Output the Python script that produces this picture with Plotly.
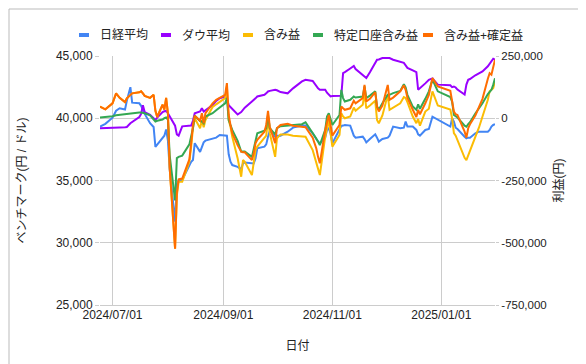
import plotly.graph_objects as go

dates = [
    "2024-06-24", "2024-06-27", "2024-07-01", "2024-07-03", "2024-07-05", "2024-07-08", "2024-07-09",
    "2024-07-11", "2024-07-12", "2024-07-16", "2024-07-17", "2024-07-18", "2024-07-19", "2024-07-22",
    "2024-07-24", "2024-07-25", "2024-07-26", "2024-07-29", "2024-07-30", "2024-07-31", "2024-08-01",
    "2024-08-02", "2024-08-05", "2024-08-06", "2024-08-07", "2024-08-09", "2024-08-13", "2024-08-14",
    "2024-08-15", "2024-08-16", "2024-08-19", "2024-08-20", "2024-08-21", "2024-08-22", "2024-08-26",
    "2024-08-28", "2024-08-30", "2024-09-02", "2024-09-03", "2024-09-04", "2024-09-05", "2024-09-06",
    "2024-09-09", "2024-09-11", "2024-09-12", "2024-09-13", "2024-09-17", "2024-09-18", "2024-09-19",
    "2024-09-20", "2024-09-24", "2024-09-25", "2024-09-26", "2024-09-27", "2024-09-30", "2024-10-01",
    "2024-10-03", "2024-10-07", "2024-10-10", "2024-10-15", "2024-10-17", "2024-10-21", "2024-10-23",
    "2024-10-24", "2024-10-25", "2024-10-28", "2024-10-29", "2024-10-30", "2024-10-31", "2024-11-01",
    "2024-11-05", "2024-11-06", "2024-11-07", "2024-11-08", "2024-11-11", "2024-11-13", "2024-11-14",
    "2024-11-18", "2024-11-19", "2024-11-20", "2024-11-22", "2024-11-25", "2024-11-26", "2024-11-27",
    "2024-11-29", "2024-12-02", "2024-12-03", "2024-12-05", "2024-12-09", "2024-12-11", "2024-12-12",
    "2024-12-13", "2024-12-16", "2024-12-18", "2024-12-19", "2024-12-20", "2024-12-23", "2024-12-25",
    "2024-12-27", "2024-12-30", "2025-01-06", "2025-01-07", "2025-01-08", "2025-01-09", "2025-01-10",
    "2025-01-14", "2025-01-15", "2025-01-16", "2025-01-17", "2025-01-20", "2025-01-22", "2025-01-24",
    "2025-01-27", "2025-01-28", "2025-01-29", "2025-01-30", "2025-01-31",
]

nikkei = [
    39330, 39550, 40050, 40600, 40800, 40700, 41400,
    42500, 41250, 41200, 41000, 40600, 40350, 39600,
    39300, 37700, 37900, 38400, 38600, 39100, 38200,
    35900, 31700, 34700, 35000, 35050, 36300, 36500,
    36650, 38000, 37300, 37720, 38060, 38200, 38330,
    38440, 38650, 38650, 38600, 37100, 36510, 36240,
    36100, 35910, 36370, 36450, 36370, 36370, 36770,
    37580, 37720, 37900, 38520, 39000, 38520, 38600,
    38600, 38920, 39250, 39410, 39410, 38790, 38330,
    38120, 37980, 38440, 39060, 39190, 38790, 37980,
    39190, 39380, 39410, 39460, 39410, 38600, 38440,
    38520, 38330, 38060, 38330, 38710, 38440, 38120,
    38330, 38440, 38600, 39330, 39190, 39240, 39730,
    39330, 39330, 39060, 38710, 38600, 39060, 39140,
    40130, 39870, 39330, 40000, 39730, 39240, 39140,
    38520, 38390, 38440, 38440, 38790, 38920, 38920,
    38920, 39060, 39330, 39460, 39520,
]

dow = [
    39190, 39190, 39220, 39240, 39250, 39270, 39300,
    39600, 39700, 40100, 40350, 41050, 40500, 40270,
    40000, 39870, 40050, 40500, 40560, 40590, 40400,
    40130, 39400, 38700, 38600, 39350, 39400, 39410,
    39800, 40400, 40540, 40800, 40540, 40650, 41050,
    41400, 41610, 41750, 41610, 41050, 40900, 40700,
    40300, 40500, 40670, 40850, 41350, 41450, 41600,
    41750, 41880, 42000, 42150, 42200, 42290, 42250,
    42100, 42000, 42400, 42960, 43090, 43000, 42560,
    42400, 42290, 42290, 42050, 41900, 41750, 41780,
    41750, 41800, 43630, 43700, 44000, 44200, 43950,
    43500, 43350, 43230, 43700, 44500, 44700, 44720,
    44840, 44840, 44840, 44700, 44550, 44450, 44250,
    44050, 43850, 43700, 42290, 42400, 42800, 43090,
    43200, 42700, 42650, 42500, 42550, 42470, 42300,
    41900, 42700, 43090, 43150, 43450, 43600, 43760,
    44170, 44400, 44600, 44780, 44700,
]

# 含み益 (yen)
unrealized = [
    47000, 36000, 60000, 100000, 82000, 65000, 80000,
    92000, 100000, 104000, 108000, 100000, 90000, 82000,
    94000, 30000, 5000, 55000, 35000, 82000, 20000,
    -200000, -524000, -310000, -255000, -255000, -175000, -115000,
    -40000, 0, -40000, -7000, -36000, -7000, 45000,
    56000, 67000, 81000, 128000, -7000, -34000, -74000,
    -161000, -235000, -168000, -175000, -228000, -175000, -128000,
    -114000, -81000, -70000, -7000, -60000, -155000, -81000,
    -65000, -65000, -70000, -74000, -74000, -128000, -175000,
    -202000, -228000, -74000, -40000, -7000, -60000, -114000,
    -67000, 20000, 7000, 0, 7000, 43000, 30000,
    54000, 101000, 40000, 51000, 70000, -7000, -20000,
    11000, 94000, 34000, 43000, 60000, 85000, 81000,
    65000, 7000, -20000, -3000, -30000, 27000, 38000,
    108000, 51000, 35000, 0, -60000, -70000, -87000,
    -159000, -168000, -148000, -128000, -75000, -38000, 7000,
    74000, 108000, 114000, 121000, 148000,
]

# 特定口座含み益 (yen)
tokutei = [
    3000, 5000, 8000, 12000, 14000, 17000, 19000,
    20000, 21000, 23000, 23000, 22000, 20000, 12000,
    -5000, -13000, -10000, -5000, 0, 3000, -5000,
    -150000, -330000, -160000, -155000, -150000, -105000, -75000,
    -40000, 10000, -11000, -13000, -20000, 7000, 20000,
    32000, 43000, 60000, 81000, -7000, -27000, -47000,
    -91000, -134000, -134000, -134000, -155000, -121000, -87000,
    -60000, -50000, -40000, 13000, -40000, -65000, -40000,
    -32000, -30000, -27000, -24000, -16000, -56000, -81000,
    -94000, -108000, -47000, 7000, 20000, 0, -27000,
    13000, 114000, 81000, 67000, 74000, 87000, 83000,
    87000, 128000, 81000, 91000, 108000, 47000, 34000,
    60000, 94000, 94000, 101000, 110000, 137000, 124000,
    94000, 47000, 34000, 56000, 38000, 78000, 108000,
    155000, 108000, 85000, 67000, 13000, 7000, 3000,
    -30000, -34000, -24000, -16000, 19000, 40000, 60000,
    97000, 108000, 114000, 134000, 161000,
]

# 含み益+確定益 (yen)
total = [
    47000, 36000, 60000, 100000, 82000, 65000, 80000,
    92000, 100000, 104000, 108000, 100000, 90000, 82000,
    94000, 30000, 5000, 55000, 35000, 82000, 20000,
    -200000, -524000, -300000, -245000, -242000, -165000, -100000,
    -27000, 10000, -10000, 20000, -20000, 20000, 60000,
    74000, 81000, 94000, 141000, 13000, -27000, -60000,
    -108000, -134000, -137000, -137000, -168000, -141000, -101000,
    -87000, -54000, -27000, 30000, -34000, -100000, -40000,
    -27000, -22000, -30000, -34000, -36000, -78000, -121000,
    -155000, -181000, -47000, -13000, 13000, -27000, -70000,
    -27000, 47000, 40000, 34000, 40000, 70000, 60000,
    81000, 134000, 67000, 78000, 105000, 47000, 27000,
    51000, 134000, 74000, 83000, 108000, 132000, 114000,
    83000, 34000, 5000, 34000, 16000, 60000, 94000,
    161000, 128000, 110000, 74000, 27000, 16000, 13000,
    -54000, -78000, -40000, -24000, 11000, 43000, 78000,
    159000, 181000, 175000, 208000, 235000,
]

series_names = ["日経平均", "ダウ平均", "含み益", "特定口座含み益", "含み益+確定益"]
x_tick_dates = ["2024-07-01", "2024-09-01", "2024-11-01", "2025-01-01"]
x_tick_labels = ["2024/07/01", "2024/09/01", "2024/11/01", "2025/01/01"]
left_ticks = [25000, 30000, 35000, 40000, 45000]
left_tick_labels = ["25,000", "30,000", "35,000", "40,000", "45,000"]
right_ticks = [-750000, -500000, -250000, 0, 250000]
right_tick_labels = ["-750,000", "-500,000", "-250,000", "0", "250,000"]

FONT = "Arial, 'Liberation Sans', 'Noto Sans CJK JP', sans-serif"
GRID = "#cccccc"
TXT = "#222222"
colors = ["#4285F4", "#9900FF", "#FBBC04", "#34A853", "#FF6D01"]
axes = ["y", "y", "y2", "y2", "y2"]
values = [nikkei, dow, unrealized, tokutei, total]

fig = go.Figure()
for name, col, ax, vals in zip(series_names, colors, axes, values):
    fig.add_trace(go.Scatter(x=dates, y=vals, name=name, mode="lines",
                             line=dict(color=col, width=2), yaxis=ax))

W, H = 586, 364
L, R, T, B = 92, 99, 48, 67
pw, ph = W - L - R, H - T - B


def px(xpix):
    return (xpix - L) / pw


def py(ypix):
    return (T + ph - ypix) / ph


# Custom compact legend (Google-Sheets style), positioned in pixels
legend_sym_x = [71, 153, 235, 305, 415]
legend_y = 27
shapes = [dict(type="rect", xref="paper", yref="paper",
               x0=px(1), x1=px(W - 2), y0=py(H - 2), y1=py(1),
               line=dict(color="#bbbbbb", width=1), fillcolor="rgba(0,0,0,0)", layer="below")]
annotations = []
for name, col, sx in zip(series_names, colors, legend_sym_x):
    shapes.append(dict(type="rect", xref="paper", yref="paper",
                       x0=px(sx), x1=px(sx + 10), y0=py(legend_y + 2), y1=py(legend_y - 2),
                       line=dict(width=0), fillcolor=col))
    annotations.append(dict(xref="paper", yref="paper", x=px(sx + 19), y=py(legend_y),
                            xanchor="left", yanchor="middle", text=name, showarrow=False,
                            font=dict(size=12, color=TXT, family=FONT)))

fig.update_layout(
    width=W, height=H,
    margin=dict(l=L, r=R, t=T, b=B, autoexpand=False),
    paper_bgcolor="white", plot_bgcolor="white",
    font=dict(family=FONT, size=12, color=TXT),
    showlegend=False,
    xaxis=dict(type="date", range=["2024-06-24", "2025-01-31"],
               tickvals=x_tick_dates, ticktext=x_tick_labels,
               showgrid=True, gridcolor=GRID, gridwidth=1,
               showline=True, linecolor=GRID, linewidth=1,
               zeroline=False, ticks="", ticklabelstandoff=-1,
               tickfont=dict(size=12, color=TXT),
               title=dict(text="日付", standoff=20, font=dict(size=12, color=TXT))),
    yaxis=dict(range=[25000, 45000], tickvals=left_ticks, ticktext=left_tick_labels,
               showgrid=True, gridcolor=GRID, gridwidth=1, zeroline=False,
               ticks="outside", ticklen=4, tickcolor=GRID,
               tickfont=dict(size=12, color=TXT),
               title=dict(text="ベンチマーク(円 / ドル)", standoff=26,
                          font=dict(size=12, color=TXT))),
    yaxis2=dict(range=[-750000, 250000], tickvals=right_ticks, ticktext=right_tick_labels,
                overlaying="y", side="right", showgrid=False, zeroline=False,
                ticks="outside", ticklen=3, tickcolor=GRID,
                tickfont=dict(size=11.5, color=TXT),
                title=dict(text="利益(円)", standoff=8,
                           font=dict(size=12, color=TXT))),
    shapes=shapes,
    annotations=annotations,
)

fig.write_html("out.html")
